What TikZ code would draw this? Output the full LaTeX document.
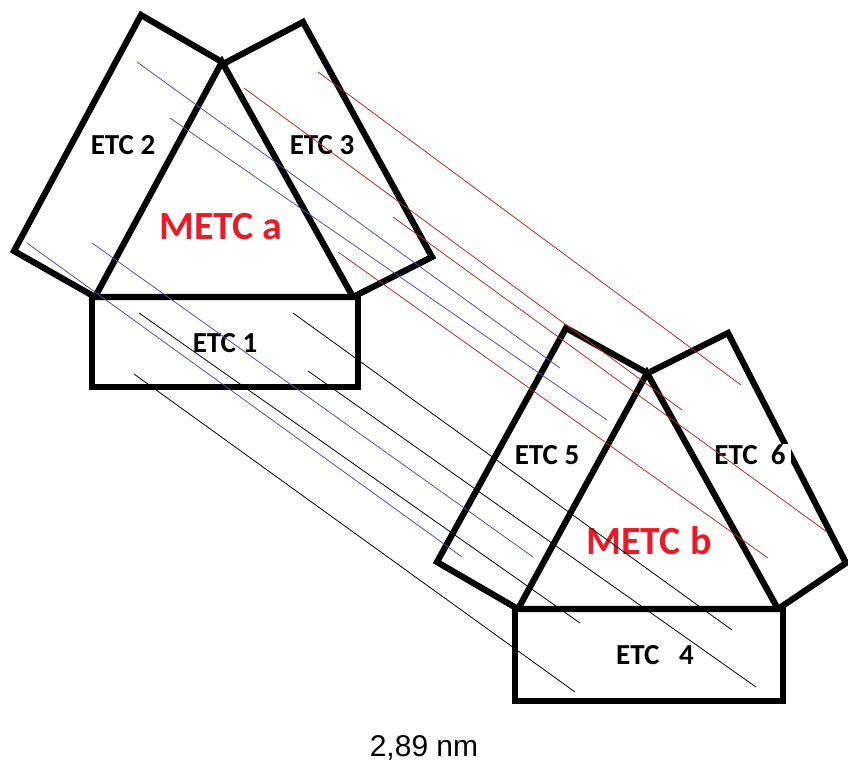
\documentclass[tikz,border=0pt]{standalone}
\usepackage{fontspec}
\setmainfont{Carlito}
\newfontfamily\legfont{Liberation Sans}
\usepackage{tikz}
\usetikzlibrary{calc,positioning}

\begin{document}
\begin{tikzpicture}[x=1pt,y=-1pt,
		bord/.style={line width=6.2pt, line join=miter},
		trait/.style={line width=0.8pt},
		etiq/.style={font=\bfseries\fontsize{29}{31}\selectfont, inner sep=1pt},
		titre/.style={font=\bfseries\fontsize{40}{44}\selectfont, text=rougeT}]
		% Couleurs
		\definecolor{bleuL}{RGB}{80,80,165}
		\definecolor{rougeL}{RGB}{175,45,45}
		\definecolor{rougeT}{RGB}{228,30,40}
		
		\useasboundingbox (0,0) rectangle (848,764);
		
		% METC a
		\coordinate (sa) at (222,62);
		\coordinate (ga) at (95,297);
		\coordinate (da) at (353,297);
		\draw[bord] (sa) -- (ga) -- (da) -- cycle;
		\draw[bord] (ga) -- (14,251) -- (141,15) -- (sa);
		\draw[bord] (da) -- (432,257) -- (303,22) -- (225,63);
		\draw[bord] (92,297) rectangle (358,387);
		
		% METC b
		\coordinate (sb) at (647,373);
		\coordinate (gb) at (518,609);
		\coordinate (db) at (778,609);
		\draw[bord] (sb) -- (gb) -- (db) -- cycle;
		\draw[bord] (gb) -- (437,562) -- (566,328) -- (sb);
		\draw[bord] (db) -- (846,563) -- (728,333) -- (650,372);
		\draw[bord] (515,609) rectangle (783,701);
		
		% Etiquettes
		\node[etiq] (etcB) at (123,145) {ETC 2};
		\node[etiq] (etcC) at (322,145) {ETC 3};
		\node[etiq] (etcA) at (225,343) {ETC 1};
		\node[titre] (metcA) at (221,227) {METC a};
		\node[etiq] (etcE) at (547,455) {ETC 5};
		\node[etiq, fill=white, inner xsep=5pt] (etcF) at (750,455) {ETC\ \ 6};
		\node[etiq] (etcD) at (655,655) {ETC\ \ \ 4};
		\node[titre] (metcB) at (649,541) {METC b};
		\node[font=\legfont\fontsize{30}{33}\selectfont] (dist) at (424,748) {2,89 nm};
		
		% Traits fins
		\foreach \xa/\ya/\xb/\yb in {137/62/560/368, 170/118/607/420,
			27/243/462/557, 92/243/533/557}
		\draw[trait, bleuL] (\xa,\ya) -- (\xb,\yb);
		\foreach \xa/\ya/\xb/\yb in {318/72/741/385, 244/88/682/410,
			393/217/827/532, 338/252/768/558}
		\draw[trait, rougeL] (\xa,\ya) -- (\xb,\yb);
		\foreach \xa/\ya/\xb/\yb in {139/313/580/623, 293/313/732/630,
			134/374/575/692, 308/371/756/687}
		\draw[trait, black] (\xa,\ya) -- (\xb,\yb);
	\end{tikzpicture}
\end{document}
